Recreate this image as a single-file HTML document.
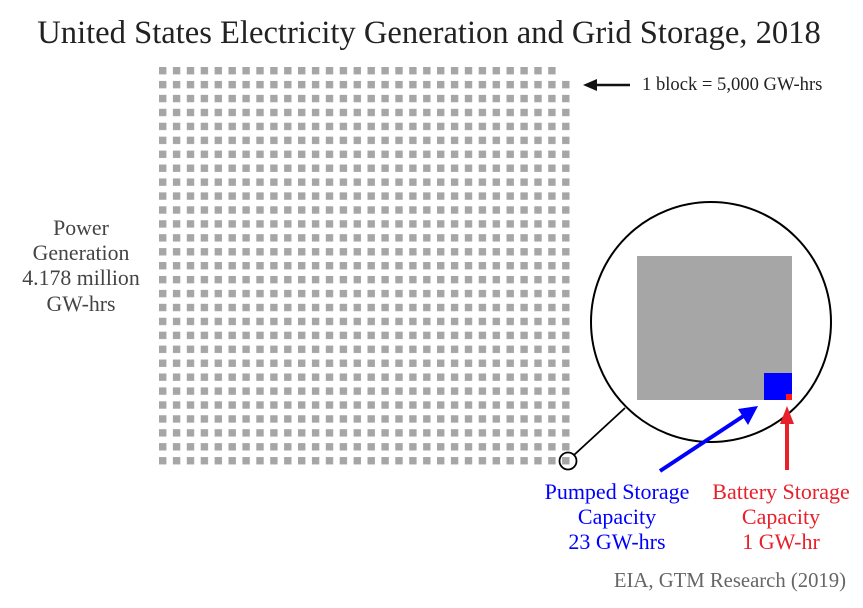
<!DOCTYPE html>
<html><head><style>body{margin:0;background:#fff}text{font-family:"Liberation Serif",serif}</style></head><body>
<svg width="863" height="603" xmlns="http://www.w3.org/2000/svg">
<rect width="863" height="603" fill="#fff"/>
<text x="429" y="43" font-size="32.6" text-anchor="middle" fill="#222">United States Electricity Generation and Grid Storage, 2018</text>
<defs><pattern id="p" x="159" y="67" width="13.9" height="13.93" patternUnits="userSpaceOnUse"><rect width="7.4" height="7.4" fill="#a6a6a6"/></pattern></defs>
<rect x="159" y="67" width="412" height="400" fill="url(#p)"/>
<rect x="558" y="64" width="16" height="12" fill="#fff"/>
<line x1="630" y1="85" x2="594" y2="85" stroke="#111" stroke-width="2.5"/>
<polygon points="583,85 597,79 597,91" fill="#111"/>
<text x="642" y="90" font-size="18.6" fill="#222">1 block = 5,000 GW-hrs</text>
<g font-size="21.8" fill="#444" text-anchor="middle">
<text x="81" y="235">Power</text><text x="81" y="260">Generation</text><text x="81" y="285">4.178 million</text><text x="81" y="311">GW-hrs</text></g>
<circle cx="711" cy="322" r="120" fill="#fff" stroke="#000" stroke-width="2"/>
<rect x="637" y="256" width="155" height="144" fill="#a6a6a6"/>
<rect x="764" y="373" width="28" height="27" fill="#0000ff"/>
<rect x="786" y="394" width="6" height="6" fill="#ff1a1a"/>
<circle cx="568" cy="461" r="8.5" fill="none" stroke="#000" stroke-width="1.8"/>
<line x1="574" y1="455" x2="625" y2="408" stroke="#000" stroke-width="1.8"/>
<line x1="660" y1="471" x2="745" y2="415" stroke="#0000ff" stroke-width="4"/>
<polygon points="758,406 738,409 748,425" fill="#0000ff"/>
<line x1="787" y1="470" x2="787" y2="422" stroke="#e8202a" stroke-width="4"/>
<polygon points="787,406 780,424 794,424" fill="#e8202a"/>
<g font-size="22" text-anchor="middle">
<text x="617" y="499" fill="#0000ff">Pumped Storage</text><text x="617" y="524" fill="#0000ff">Capacity</text><text x="617" y="549" fill="#0000ff">23 GW-hrs</text>
<text x="781" y="499" fill="#e8202a">Battery Storage</text><text x="781" y="524" fill="#e8202a">Capacity</text><text x="781" y="549" fill="#e8202a">1 GW-hr</text>
</g>
<text x="846" y="587" font-size="20.7" text-anchor="end" fill="#666">EIA, GTM Research (2019)</text>
</svg>
</body></html>
